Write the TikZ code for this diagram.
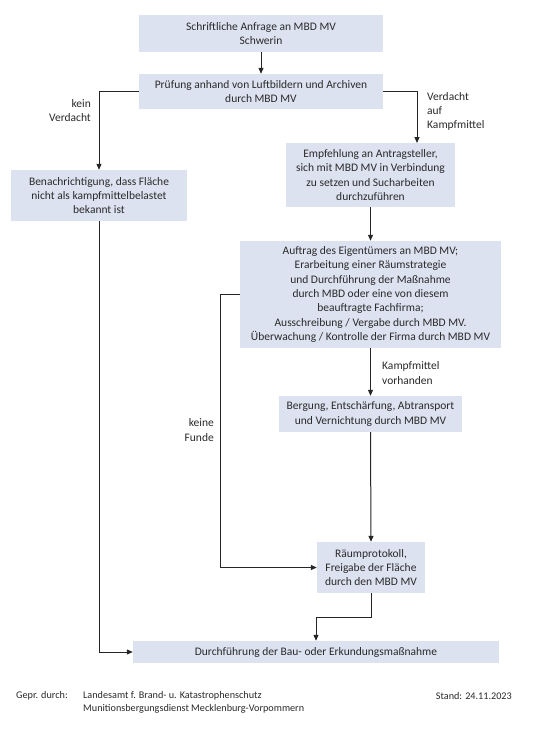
\documentclass[tikz,border=0pt]{standalone}
\usepackage{fontspec}
\setmainfont{Carlito}
\usetikzlibrary{arrows.meta}
\definecolor{boxfill}{HTML}{DDE2F0}
\definecolor{txt}{HTML}{2A2A2A}
\definecolor{ln}{HTML}{262626}
\begin{document}
\begin{tikzpicture}[x=1pt,y=-1pt,
  every node/.style={text=txt,font=\fontsize{11.5}{14.3}\selectfont},
  box/.style={fill=boxfill,draw=none,align=center,inner sep=0pt},
  lbl/.style={inner sep=0pt},
  conn/.style={draw=ln,line width=1pt,-{Triangle[length=6pt,width=5pt]}},
  foot/.style={inner sep=0pt,font=\fontsize{10.2}{13}\selectfont}]
\useasboundingbox (0,0) rectangle (545,729);
\fill[white] (0,0) rectangle (545,729);
\node[box,minimum width=244pt,minimum height=37pt] (b1) at (261,33.5) {Schriftliche Anfrage an MBD MV\\Schwerin};
\node[box,minimum width=244pt,minimum height=35pt] (b2) at (261,91.5) {Prüfung anhand von Luftbildern und Archiven\\durch MBD MV};
\node[box,minimum width=176pt,minimum height=51pt] (b3) at (99,195.5) {Benachrichtigung, dass Fläche\\nicht als kampfmittelbelastet\\bekannt ist};
\node[box,minimum width=169pt,minimum height=64pt] (b4) at (370.5,175) {Empfehlung an Antragsteller,\\sich mit MBD MV in Verbindung\\zu setzen und Sucharbeiten\\durchzuführen};
\node[box,minimum width=261pt,minimum height=107pt] (b5) at (370.5,294.5) {Auftrag des Eigentümers an MBD MV;\\Erarbeitung einer Räumstrategie\\und Durchführung der Maßnahme\\durch MBD oder eine von diesem\\beauftragte Fachfirma;\\Ausschreibung / Vergabe durch MBD MV.\\Überwachung / Kontrolle der Firma durch MBD MV};
\node[box,minimum width=183pt,minimum height=36pt] (b6) at (370.5,414) {Bergung, Entschärfung, Abtransport\\und Vernichtung durch MBD MV};
\node[box,minimum width=108pt,minimum height=51pt] (b7) at (371,567.5) {Räumprotokoll,\\Freigabe der Fläche\\durch den MBD MV};
\node[box,minimum width=366pt,minimum height=22pt] (b8) at (316,652) {Durchführung der Bau- oder Erkundungsmaßnahme};
\coordinate (r1) at (417,143);
\coordinate (k1) at (220,294.5);
\coordinate (m1) at (371,617);
\draw[conn] (b1.south) -- (b2.north);
\draw[conn] (b2.west) -| (b3.north);
\draw[conn] (b2.east) -| (r1);
\draw[conn] (b4.south) -- (b5.north);
\draw[conn] (b5.south) -- (b6.north);
\draw[conn] (b5.west) -- (k1) |- (b7.west);
\draw[conn] (b6.south) -- (b7.north);
\draw[conn] (b7.south) -- (m1) -| (b8.north);
\draw[conn] (b3.south) |- (b8.west);
\node[lbl,align=right,anchor=east] (l1) at (91,110.5) {kein\\Verdacht};
\node[lbl,align=left,anchor=west] (l2) at (427,111.5) {Verdacht\\auf\\Kampfmittel};
\node[lbl,align=left,anchor=west] (l3) at (382,373) {Kampfmittel\\vorhanden};
\node[lbl,align=right,anchor=east] (l4) at (214,430) {keine\\Funde};
\node[foot,anchor=west] (f1) at (16,696) {Gepr. durch:};
\node[foot,align=left,anchor=west] (f2) at (83,702.5) {Landesamt f. Brand- u. Katastrophenschutz\\Munitionsbergungsdienst Mecklenburg-Vorpommern};
\node[foot,anchor=east] (f3) at (512,696) {Stand: 24.11.2023};
\end{tikzpicture}
\end{document}
